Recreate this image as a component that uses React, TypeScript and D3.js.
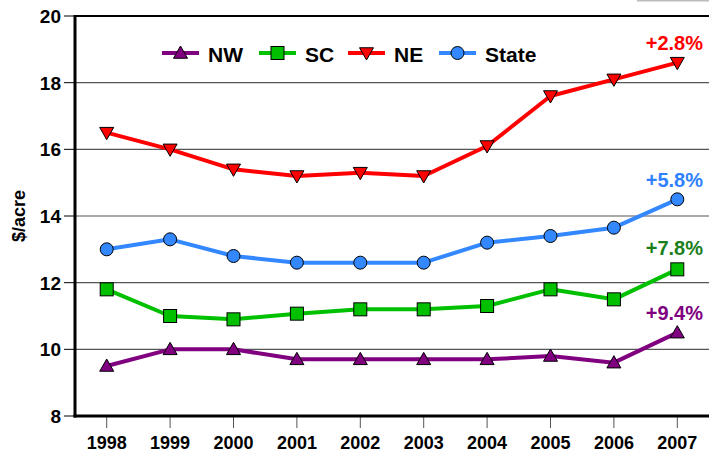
import React from "react";
import * as d3 from "d3";

const years = ["1998", "1999", "2000", "2001", "2002", "2003", "2004", "2005", "2006", "2007"];
const nwValues = [9.5, 10.0, 10.0, 9.7, 9.7, 9.7, 9.7, 9.8, 9.6, 10.5];
const scValues = [11.8, 11.0, 10.9, 11.07, 11.2, 11.2, 11.3, 11.8, 11.5, 12.4];
const neValues = [16.5, 16.0, 15.4, 15.2, 15.3, 15.2, 16.1, 17.6, 18.1, 18.6];
const stateValues = [13.0, 13.3, 12.8, 12.6, 12.6, 12.6, 13.2, 13.4, 13.65, 14.5];
const yTicks = [8, 10, 12, 14, 16, 18, 20];
const seriesNames = ["NW", "SC", "NE", "State"];
const changeLabels = ["+9.4%", "+7.8%", "+2.8%", "+5.8%"];

const W = 709, H = 456;
const left = 75, right = 709, top = 16, bottom = 416;
const font = "Arial, 'Liberation Sans', sans-serif";

type Series = { name: string; values: number[]; color: string; labelColor: string; marker: string; label: string };
const series: Series[] = [
  { name: seriesNames[0], values: nwValues, color: "#800080", labelColor: "#800080", marker: "tri", label: changeLabels[0] },
  { name: seriesNames[1], values: scValues, color: "#00c000", labelColor: "#1a7f1a", marker: "square", label: changeLabels[1] },
  { name: seriesNames[2], values: neValues, color: "#ff0000", labelColor: "#ff0000", marker: "itri", label: changeLabels[2] },
  { name: seriesNames[3], values: stateValues, color: "#3388ff", labelColor: "#2f80ff", marker: "circle", label: changeLabels[3] },
];

function Marker({ type, x, y, color }: { type: string; x: number; y: number; color: string }) {
  const s = 7;
  if (type === "tri")
    return <path d={`M${x},${y - s}L${x + s},${y + s * 0.75}L${x - s},${y + s * 0.75}Z`} fill={color} stroke="#000" strokeWidth={1} />;
  if (type === "itri")
    return <path d={`M${x},${y + s}L${x + s},${y - s * 0.75}L${x - s},${y - s * 0.75}Z`} fill={color} stroke="#000" strokeWidth={1} />;
  if (type === "square")
    return <rect x={x - 6.5} y={y - 6.5} width={13} height={13} fill={color} stroke="#000" strokeWidth={1} />;
  return <circle cx={x} cy={y} r={6.5} fill={color} stroke="#000" strokeWidth={1} />;
}

export default function App() {
  const x = d3.scalePoint<string>().domain(years).range([left, right]).padding(0.5);
  const y = d3.scaleLinear().domain([8, 20]).range([bottom, top]);
  const line = d3.line<number>().x((_, i) => x(years[i])!).y((d) => y(d));
  const legendX = [162, 259, 348, 439];
  const labelY = [320, 255, 50, 187];

  return (
    <svg width={W} height={H} style={{ position: "absolute", left: 0, top: 0, background: "#fff" }} fontFamily={font}>
      <line x1={637} x2={709} y1={0.5} y2={0.5} stroke="#bbb" strokeWidth={2} />
      {yTicks.slice(1, -1).map((t) => (
        <line key={t} x1={left} x2={right} y1={y(t)} y2={y(t)} stroke="#555" strokeWidth={1.2} />
      ))}
      <line x1={left} x2={right} y1={top} y2={top} stroke="#000" strokeWidth={2} />
      {yTicks.map((t) => (
        <g key={t}>
          <line x1={64} x2={left} y1={y(t)} y2={y(t)} stroke="#000" strokeWidth={1} />
          <text x={61} y={y(t) + 7} textAnchor="end" fontSize={19} fontWeight="bold">{t}</text>
        </g>
      ))}
      {years.map((yr) => (
        <g key={yr}>
          <line x1={x(yr)} x2={x(yr)} y1={bottom} y2={428} stroke="#555" strokeWidth={1} />
          <text x={x(yr)} y={449} textAnchor="middle" fontSize={18} fontWeight="bold">{yr}</text>
        </g>
      ))}
      <text transform={`translate(25,${(top + bottom) / 2}) rotate(-90)`} textAnchor="middle" fontSize={18} fontWeight="bold">$/acre</text>
      {series.map((s) => (
        <path key={s.name} d={line(s.values)!} fill="none" stroke={s.color} strokeWidth={4} strokeLinejoin="round" />
      ))}
      {series.map((s) =>
        s.values.map((v, i) => <Marker key={s.name + i} type={s.marker} x={x(years[i])!} y={y(v)} color={s.color} />)
      )}
      <line x1={left} x2={left} y1={top - 1} y2={bottom + 1.5} stroke="#000" strokeWidth={3} />
      <line x1={left - 1.5} x2={right} y1={bottom} y2={bottom} stroke="#000" strokeWidth={3} />
      {series.map((s, i) => (
        <g key={"lg" + s.name}>
          <line x1={legendX[i]} x2={legendX[i] + 37} y1={53} y2={53} stroke={s.color} strokeWidth={4} />
          <Marker type={s.marker} x={legendX[i] + 18.5} y={53} color={s.color} />
          <text x={legendX[i] + 46} y={62} fontSize={21} fontWeight="bold">{s.name}</text>
        </g>
      ))}
      {series.map((s, i) => (
        <text key={"cl" + s.name} x={703} y={labelY[i]} textAnchor="end" fontSize={20} fontWeight="bold" fill={s.labelColor}>{s.label}</text>
      ))}
    </svg>
  );
}
